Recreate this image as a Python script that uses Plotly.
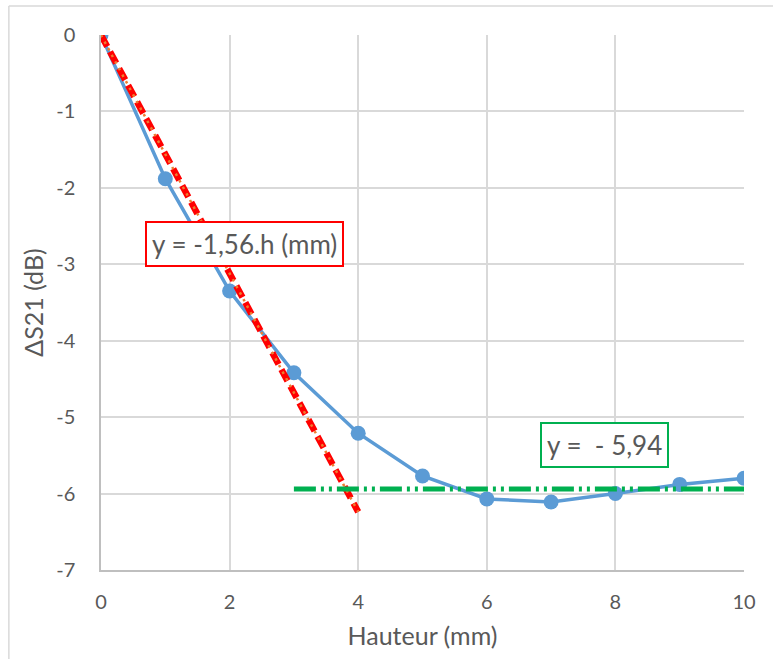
import plotly.graph_objects as go

# Data
hauteur = [0, 1, 2, 3, 4, 5, 6, 7, 8, 9, 10]
delta_s21 = [0, -1.88, -3.35, -4.42, -5.21, -5.77, -6.07, -6.11, -6.00, -5.88, -5.80]

lin_fit_x = [0, 4]
lin_fit_y = [0, -6.24]
const_fit_x = [3, 10]
const_fit_y = [-5.94, -5.94]

x_ticks = [0, 2, 4, 6, 8, 10]
y_ticks = [0, -1, -2, -3, -4, -5, -6, -7]

FONT = "Lato"
GREY = "#595959"

fig = go.Figure()

fig.add_trace(go.Scatter(
    x=hauteur, y=delta_s21, mode="lines+markers",
    line=dict(color="#5B9BD5", width=3.5),
    marker=dict(color="#5B9BD5", size=15),
    showlegend=False, hoverinfo="skip"))

fig.add_trace(go.Scatter(
    x=lin_fit_x, y=lin_fit_y, mode="lines",
    line=dict(color="#FF0000", width=6.5, dash="13px,6px"),
    showlegend=False, hoverinfo="skip"))

fig.add_trace(go.Scatter(
    x=lin_fit_x, y=lin_fit_y, mode="lines",
    line=dict(color="#ED7D31", width=2.5, dash="2.5px,5px"),
    showlegend=False, hoverinfo="skip"))

fig.add_trace(go.Scatter(
    x=const_fit_x, y=const_fit_y, mode="lines",
    line=dict(color="#00B050", width=5, dash="22px,5px,3px,5px,3px,5px"),
    showlegend=False, hoverinfo="skip"))

fig.add_annotation(
    x=2.237, y=-2.73, xref="x", yref="y",
    text="y = -1,56.h (mm)", showarrow=False,
    xanchor="center", yanchor="middle",
    font=dict(family=FONT, size=26, color=GREY),
    bgcolor="white", bordercolor="#FF0000", borderwidth=2, borderpad=5)

fig.add_annotation(
    x=7.83, y=-5.37, xref="x", yref="y",
    text="y =\u00a0\u00a0- 5,94", showarrow=False,
    xanchor="center", yanchor="middle",
    font=dict(family=FONT, size=26, color=GREY),
    bgcolor="white", bordercolor="#00B050", borderwidth=2, borderpad=5)

# chart frame (left and top edges visible)
fig.add_shape(type="line", xref="paper", yref="paper",
              x0=-0.1433, x1=-0.1433, y0=1.054, y1=-0.3,
              line=dict(color="#D9D9D9", width=1.5))
fig.add_shape(type="line", xref="paper", yref="paper",
              x0=-0.1433, x1=1.2, y0=1.054, y1=1.054,
              line=dict(color="#D9D9D9", width=1.5))

fig.update_layout(
    width=773, height=659,
    margin=dict(l=101, r=29, t=35, b=89),
    paper_bgcolor="white", plot_bgcolor="white",
    font=dict(family=FONT, color=GREY),
    xaxis=dict(
        range=[0, 10], tickvals=x_ticks, ticktext=[str(v) for v in x_ticks],
        showgrid=True, gridcolor="#D9D9D9", gridwidth=1.5,
        showline=True, linecolor="#BFBFBF", linewidth=1.5,
        zeroline=False, tickfont=dict(family=FONT, size=20, color=GREY),
        ticks="", ticklabelstandoff=13,
        title=dict(text="Hauteur (mm)", font=dict(family=FONT, size=25, color=GREY), standoff=16),
    ),
    yaxis=dict(
        range=[-7, 0], tickvals=y_ticks, ticktext=[str(v) for v in y_ticks],
        showgrid=True, gridcolor="#D9D9D9", gridwidth=1.5,
        showline=True, linecolor="#BFBFBF", linewidth=1.5,
        zeroline=False, tickfont=dict(family=FONT, size=20, color=GREY),
        ticks="", ticklabelstandoff=20,
        title=dict(text="ΔS21 (dB)", font=dict(family=FONT, size=25, color=GREY), standoff=5),
    ),
)

fig.write_html("out.html", config={"displayModeBar": False},
               post_script="document.body.style.margin='0';document.body.style.overflow='hidden';")
